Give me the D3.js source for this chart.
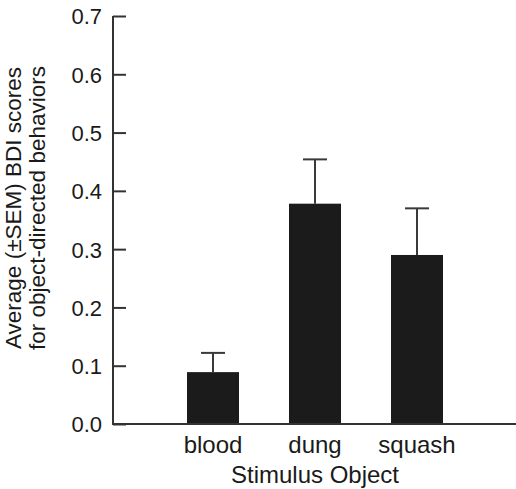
<!DOCTYPE html>
<html>
<head>
<meta charset="utf-8">
<script src="https://cdn.jsdelivr.net/npm/d3@7"></script>
<style>
  body { margin: 0; background: #fff; }
  text { font-family: "Liberation Sans", Arial, sans-serif; fill: #1a1a1a; }
</style>
</head>
<body>
<div id="chart"></div>
<script>
"use strict";

// data
var categories = ["blood", "dung", "squash"];
var means = [0.089, 0.378, 0.290];
var sems = [0.033, 0.076, 0.080];
var yTicks = [0, 0.1, 0.2, 0.3, 0.4, 0.5, 0.6, 0.7];

var width = 516, height = 489;

var svg = d3.select("#chart")
    .append("svg")
    .attr("width", width)
    .attr("height", height);

// scales
var x = d3.scalePoint()
    .domain(categories)
    .range([162, 468])
    .padding(0.5);

var y = d3.scaleLinear()
    .domain([0, 0.7])
    .range([424, 16]);

var barW = 52;

// bars
svg.selectAll("rect.bar")
    .data(categories)
    .join("rect")
    .attr("class", "bar")
    .attr("x", d => x(d) - barW / 2)
    .attr("y", (d, i) => y(means[i]))
    .attr("width", barW)
    .attr("height", (d, i) => y(0) - y(means[i]))
    .attr("fill", "#1b1b1b");

// error bars (upper only)
var err = svg.append("g")
    .attr("stroke", "#3a3a3a")
    .attr("stroke-width", 2);

err.selectAll("line.stem")
    .data(categories)
    .join("line")
    .attr("x1", d => x(d))
    .attr("x2", d => x(d))
    .attr("y1", (d, i) => y(means[i]))
    .attr("y2", (d, i) => y(means[i] + sems[i]));

err.selectAll("line.cap")
    .data(categories)
    .join("line")
    .attr("x1", d => x(d) - 12)
    .attr("x2", d => x(d) + 12)
    .attr("y1", (d, i) => y(means[i] + sems[i]))
    .attr("y2", (d, i) => y(means[i] + sems[i]));

// y axis, ticks pointing inward
var yAxis = svg.append("g")
    .attr("transform", "translate(113,0)")
    .call(d3.axisRight(y).tickValues(yTicks).tickSize(13).tickFormat(d3.format(".1f")));

yAxis.select(".domain").remove();
yAxis.selectAll(".tick line").attr("stroke", "#333").attr("stroke-width", 2);
yAxis.selectAll(".tick text")
    .attr("x", -11)
    .attr("text-anchor", "end")
    .attr("dy", "0.36em")
    .style("font-size", "22px")
    .style("font-family", "'Liberation Sans', Arial, sans-serif")
    .attr("fill", "#1a1a1a");

svg.append("line")
    .attr("x1", 113).attr("x2", 113)
    .attr("y1", y(0.7)).attr("y2", y(0) + 1)
    .attr("stroke", "#333").attr("stroke-width", 2);

// x axis baseline
svg.append("line")
    .attr("x1", 112).attr("x2", width)
    .attr("y1", y(0)).attr("y2", y(0))
    .attr("stroke", "#333").attr("stroke-width", 2);

// category labels
svg.selectAll("text.cat")
    .data(categories)
    .join("text")
    .attr("class", "cat")
    .attr("x", d => x(d))
    .attr("y", 453)
    .attr("text-anchor", "middle")
    .style("font-size", "24px")
    .text(d => d);

// axis titles
svg.append("text")
    .attr("x", 315)
    .attr("y", 483)
    .attr("text-anchor", "middle")
    .style("font-size", "24px")
    .text("Stimulus Object");

var yTitle = svg.append("text")
    .attr("transform", "translate(21,208) rotate(-90)")
    .attr("text-anchor", "middle")
    .style("font-size", "22.5px");

yTitle.append("tspan").attr("x", 0).attr("y", 0).text("Average (±SEM) BDI scores");
yTitle.append("tspan").attr("x", 0).attr("y", 24).text("for object-directed behaviors");
</script>
</body>
</html>
